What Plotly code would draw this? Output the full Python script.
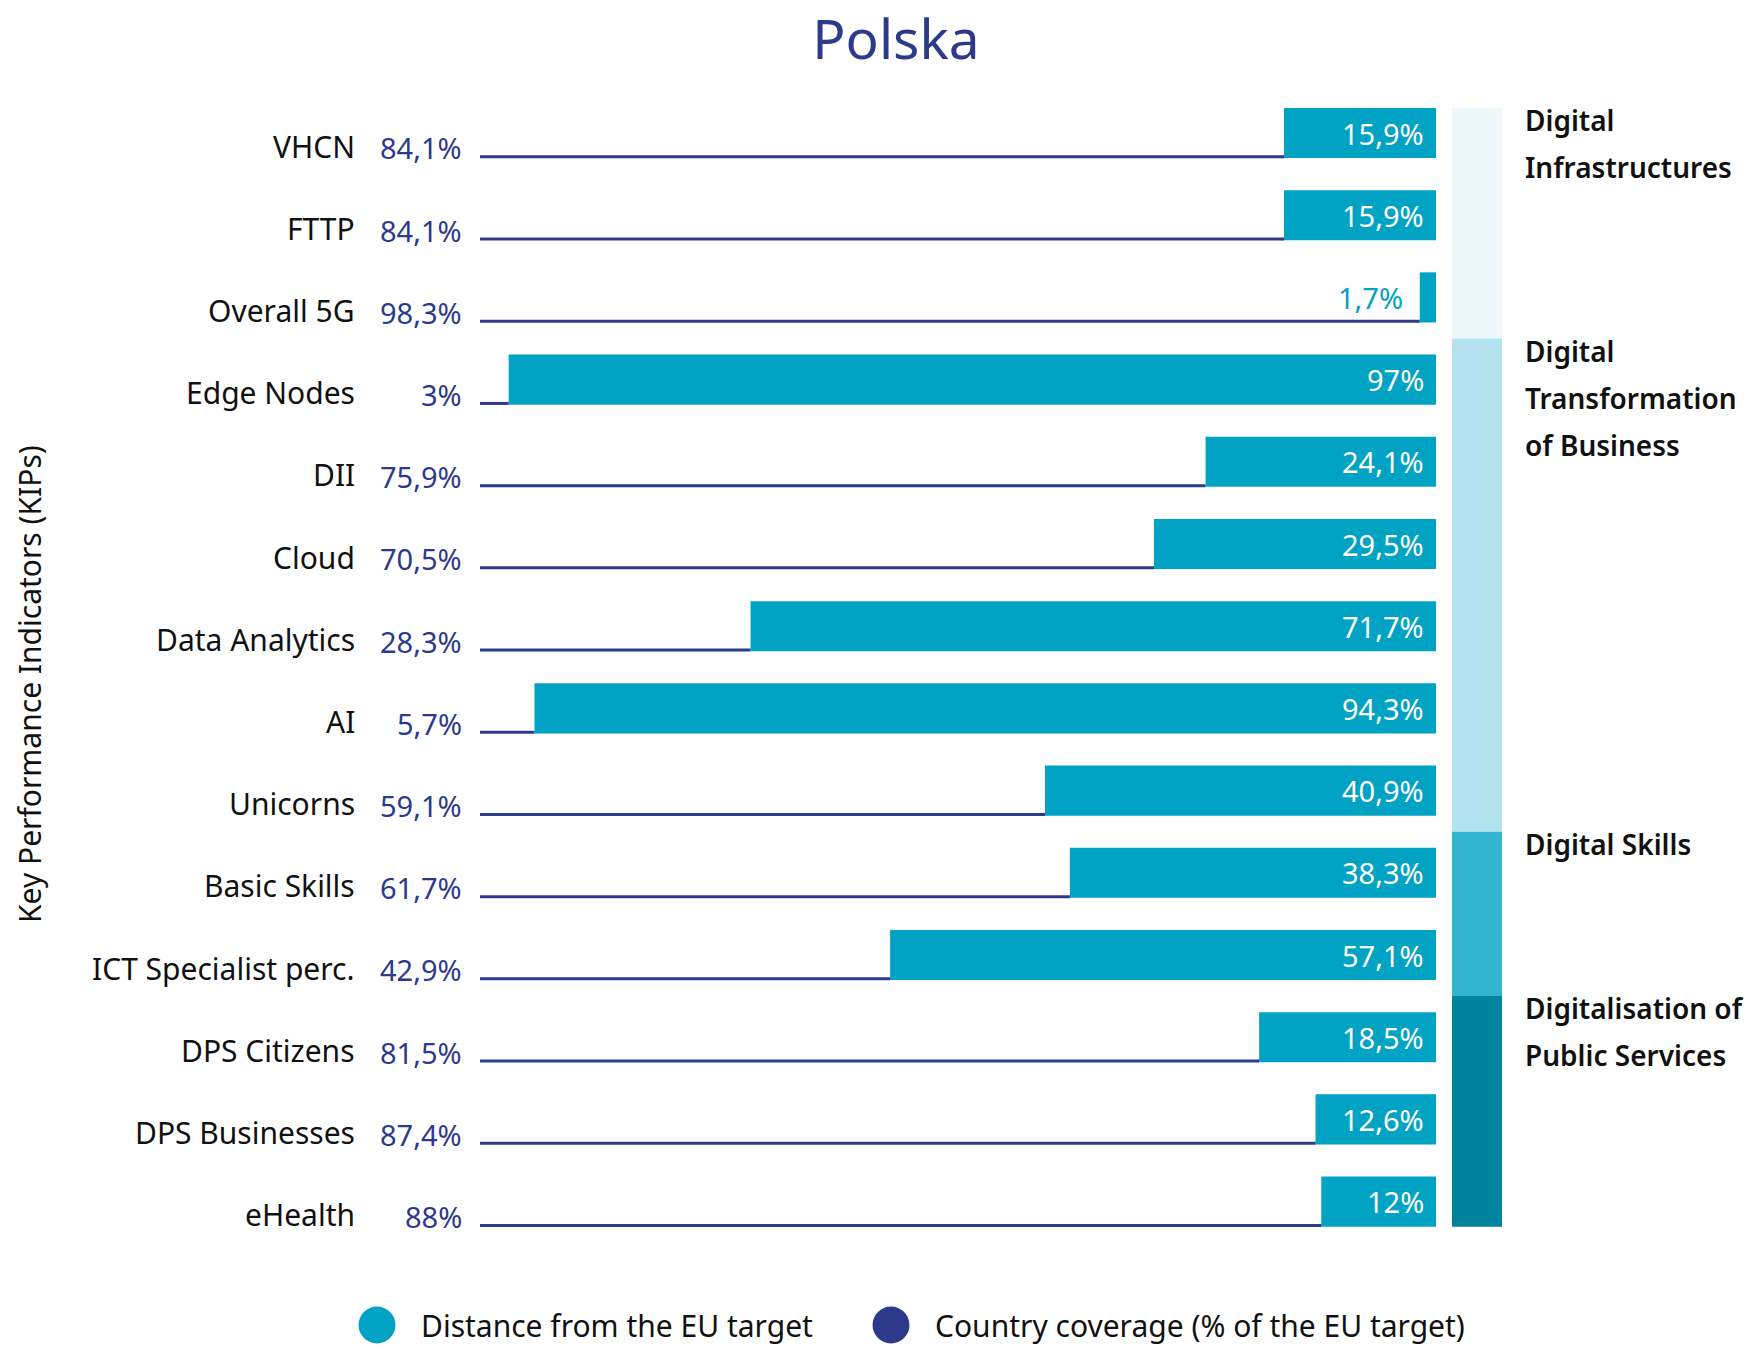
import plotly.graph_objects as go

# ---------------- data ----------------
categories = ["VHCN", "FTTP", "Overall 5G", "Edge Nodes", "DII", "Cloud",
              "Data Analytics", "AI", "Unicorns", "Basic Skills",
              "ICT Specialist perc.", "DPS Citizens", "DPS Businesses", "eHealth"]
coverage = [84.1, 84.1, 98.3, 3.0, 75.9, 70.5, 28.3, 5.7, 59.1, 61.7, 42.9, 81.5, 87.4, 88.0]
distance = [15.9, 15.9, 1.7, 97.0, 24.1, 29.5, 71.7, 94.3, 40.9, 38.3, 57.1, 18.5, 12.6, 12.0]
coverage_labels = ["84,1%", "84,1%", "98,3%", "3%", "75,9%", "70,5%", "28,3%",
                   "5,7%", "59,1%", "61,7%", "42,9%", "81,5%", "87,4%", "88%"]
distance_labels = ["15,9%", "15,9%", "1,7%", "97%", "24,1%", "29,5%", "71,7%",
                   "94,3%", "40,9%", "38,3%", "57,1%", "18,5%", "12,6%", "12%"]

group_lines = [["Digital", "Infrastructures"],
               ["Digital", "Transformation", "of Business"],
               ["Digital Skills"],
               ["Digitalisation of", "Public Services"]]
group_sizes = [3, 6, 2, 3]
group_colors = ["#EEF8FB", "#B3E3EE", "#33B5CF", "#00839C"]

title_text = "Polska"
yaxis_title = "Key Performance Indicators (KIPs)"
legend_names = ["Distance from the EU target", "Country coverage (% of the EU target)"]

# ---------------- style ----------------
BAR = "#00A3C4"
NAVY = "#2D3A8C"
FONT = "Noto Sans"
FS = 29

W, H = 1760, 1348
L, R = 480, 1760 - 1502          # plot area x: 480 .. 1502
T, B = 67, 64                    # plot area y: 67 .. 1284
PW = W - L - R
PH = H - T - B
ROW_PX = 82.2
bar_w = 0.61
line_off = 0.29

n = len(categories)
rows = list(range(n))

fig = go.Figure()

# distance bars
fig.add_trace(go.Bar(
    y=rows, x=distance, base=coverage, orientation="h", width=bar_w,
    marker=dict(color=BAR, line=dict(width=0)), showlegend=False, hoverinfo="skip"))

# coverage lines
lx, ly = [], []
for i, c in enumerate(coverage):
    lx += [0, c, None]
    ly += [i + line_off, i + line_off, None]
fig.add_trace(go.Scatter(x=lx, y=ly, mode="lines", line=dict(color=NAVY, width=3),
                         showlegend=False, hoverinfo="skip"))

# group band on x2
bounds = [0]
for s in group_sizes:
    bounds.append(bounds[-1] + s)
starts, lengths = [], []
for g in range(len(group_sizes)):
    s = bounds[g] - 0.5
    e = bounds[g + 1] - 0.5
    if g == 0:
        s = -bar_w / 2
    if g == len(group_sizes) - 1:
        e = n - 1 + bar_w / 2
    starts.append(s)
    lengths.append(e - s)
fig.add_trace(go.Bar(x=[0] * len(starts), y=lengths, base=starts, width=1,
                     xaxis="x2", yaxis="y", marker=dict(color=group_colors, line=dict(width=0)),
                     showlegend=False, hoverinfo="skip"))

ann = []
for i in rows:
    ann.append(dict(x=0, xref="paper", y=i + 0.16, yref="y", xanchor="right", yanchor="middle",
                    xshift=357 - L, text=categories[i], showarrow=False,
                    font=dict(family=FONT, size=30, color="#111111")))
    ann.append(dict(x=0, xref="paper", y=i + 0.18, yref="y", xanchor="right", yanchor="middle",
                    xshift=464 - L, text=coverage_labels[i], showarrow=False,
                    font=dict(family=FONT, size=FS, color=NAVY)))
    if distance[i] < 8:
        ann.append(dict(x=coverage[i], xref="x", y=i, yref="y", xanchor="right", yanchor="middle",
                        xshift=-15, text=distance_labels[i], showarrow=False,
                        font=dict(family=FONT, size=FS, color=BAR)))
    else:
        ann.append(dict(x=100, xref="x", y=i, yref="y", xanchor="right", yanchor="middle",
                        xshift=-10, text=distance_labels[i], showarrow=False,
                        font=dict(family=FONT, size=FS, color="white")))

for g, lines in enumerate(group_lines):
    for k, t in enumerate(lines):
        ann.append(dict(x=100, xref="x", y=starts[g] + 12 / ROW_PX + k * 47 / ROW_PX, yref="y",
                        xanchor="left", yanchor="middle", xshift=1523 - 1436, text=t,
                        showarrow=False, font=dict(family=FONT, size=28, color="#111111", weight=600)))

# y axis title
ann.append(dict(x=0, xref="paper", y=(T + PH - 684) / PH, yref="paper", xanchor="center",
                yanchor="middle", xshift=30 - L, text=yaxis_title, textangle=-90, showarrow=False,
                font=dict(family=FONT, size=30, color="#111111")))

# legend (custom circles + text)
shapes = []
leg_y = (T + PH - 1325) / PH
leg_items = [(377, 419, BAR, legend_names[0]), (891, 933, NAVY, legend_names[1])]
r_px = 18.5
for cx, tx, col, name in leg_items:
    shapes.append(dict(type="circle", xref="paper", yref="paper",
                       x0=(cx - r_px - L) / PW, x1=(cx + r_px - L) / PW,
                       y0=(T + PH - 1325 - r_px) / PH, y1=(T + PH - 1325 + r_px) / PH,
                       fillcolor=col, line=dict(width=0)))
    ann.append(dict(x=(tx - L) / PW, xref="paper", y=leg_y, yref="paper", xanchor="left",
                    yanchor="middle", text=name, showarrow=False,
                    font=dict(family=FONT, size=30, color="#111111")))

fig.update_layout(
    width=W, height=H,
    margin=dict(l=L, r=R, t=T, b=B, pad=0),
    paper_bgcolor="white", plot_bgcolor="white",
    barmode="overlay",
    title=dict(text=title_text, x=896 / W, xanchor="center", y=1 - 40 / H, yanchor="middle",
               yref="container", font=dict(family=FONT, size=55, color=NAVY)),
    xaxis=dict(domain=[0, 956 / PW], range=[0, 100], visible=False, fixedrange=True),
    xaxis2=dict(domain=[(1452 - L) / PW, 1], range=[-0.5, 0.5], visible=False, anchor="y"),
    yaxis=dict(range=[(H - B - T) / ROW_PX - (133 - T) / ROW_PX, -(133 - T) / ROW_PX],
               visible=False, fixedrange=True),
    annotations=ann, shapes=shapes,
    showlegend=False,
)

fig.write_html("out.html", config={"displayModeBar": False},
               post_script="document.body.style.margin='0';document.body.style.overflow='hidden';")
